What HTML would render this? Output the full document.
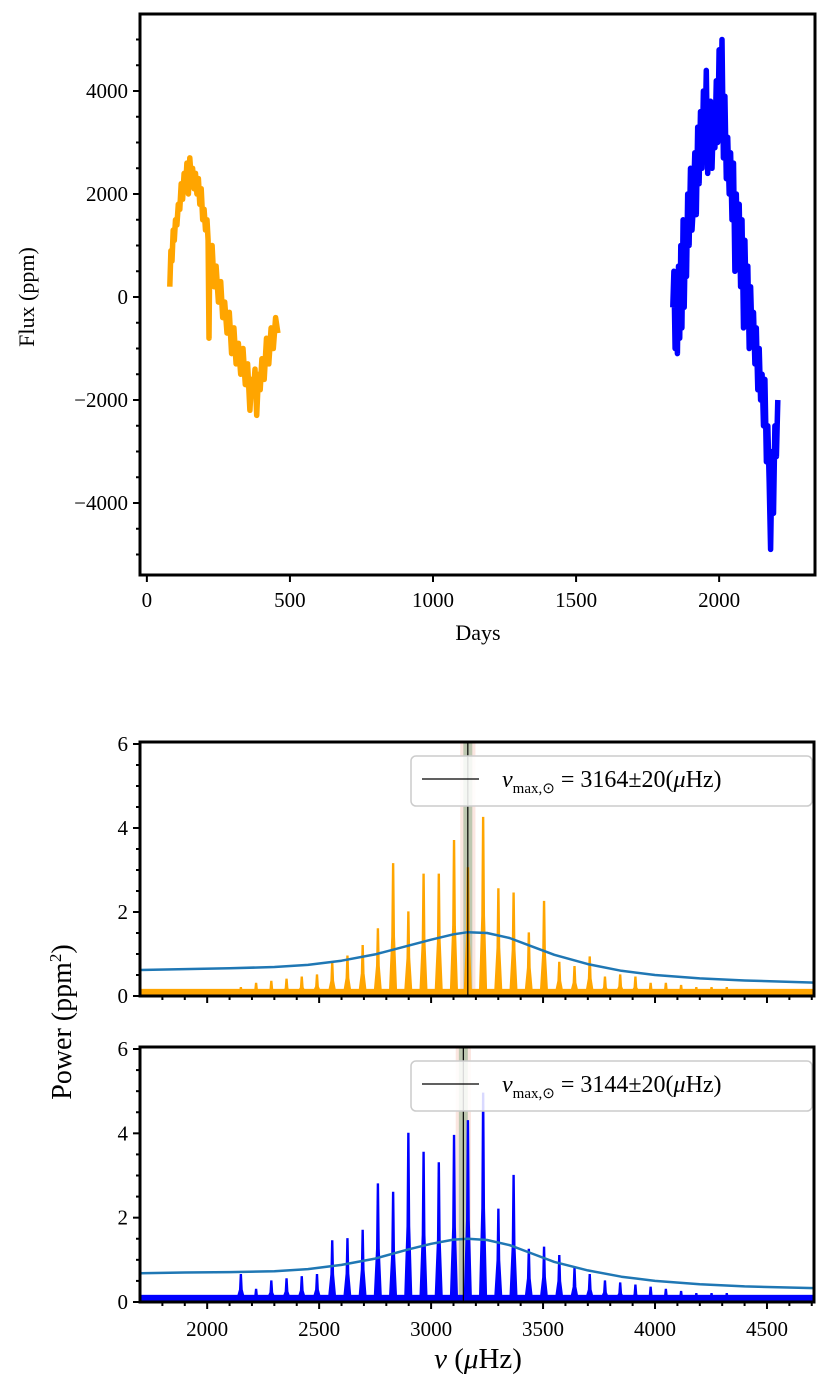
<!DOCTYPE html>
<html><head><meta charset="utf-8"><style>
html,body{margin:0;padding:0;background:#fff;}
svg{display:block;font-family:"Liberation Serif",serif;}
</style></head><body>
<svg id="fig" width="831" height="1389" viewBox="0 0 831 1389" xmlns="http://www.w3.org/2000/svg"></svg>
<script>
// ---- Light curve data ----
const orangeDays=[80,84,88,92,96,100,105,110,115,120,125,130,135,140,145,150,155,160,165,170,175,180,185,190,195,200,205,210,214,217,220,223,228,235,242,250,258,265,272,280,288,296,304,312,320,328,336,344,352,360,366,372,378,384,390,396,402,410,418,426,434,442,450,458];
const orangeFlux=[200,900,700,1300,1100,1500,1400,1800,1700,2200,1900,2400,2100,2600,2000,2700,2300,2500,2100,2400,2000,2300,1800,2100,1500,1700,1300,1500,1100,-800,900,400,1000,200,600,-100,300,-400,-100,-700,-300,-1100,-600,-1300,-900,-1500,-1000,-1700,-1300,-2200,-1600,-1900,-1400,-2300,-1500,-1800,-1200,-1600,-800,-1300,-600,-1000,-400,-700];
const blueDays=[1838,1842,1846,1850,1854,1858,1862,1866,1870,1874,1878,1882,1886,1890,1895,1900,1905,1910,1915,1920,1925,1930,1935,1940,1945,1950,1955,1960,1965,1970,1975,1980,1985,1990,1995,2000,2005,2010,2015,2020,2025,2030,2035,2040,2045,2050,2055,2060,2065,2070,2075,2080,2085,2090,2095,2100,2105,2110,2115,2120,2125,2130,2135,2140,2145,2150,2155,2160,2165,2170,2175,2180,2185,2190,2195,2200,2205];
const blueFlux=[-200,500,-1000,300,-1100,600,-800,1000,-600,1500,-200,1200,400,2000,1000,2500,1300,1800,2800,1600,3300,2200,3600,2500,4000,2800,4400,2400,3200,3800,2500,3500,2900,4200,3000,4800,3100,5000,2700,3900,2300,3100,2000,2800,1500,2600,500,2000,800,1800,200,1500,-600,1100,-300,600,-1000,200,-800,-300,-1300,-600,-1800,-1000,-2000,-1500,-2500,-1600,-3200,-2500,-3600,-4900,-3000,-4200,-2500,-3100,-2000];
const fluxTicks=[-4000,-2000,0,2000,4000];
const dayTicks=[0,500,1000,1500,2000];

// ---- Power spectra data ----
const peakFreqs=[2150,2218,2286,2354,2422,2490,2558,2626,2694,2762,2830,2898,2966,3034,3102,3164,3232,3300,3368,3436,3504,3572,3640,3708,3776,3844,3912,3980,4048,4116,4184,4252,4320];
const orangePeaks=[0.2,0.3,0.35,0.4,0.45,0.5,0.8,0.95,1.2,1.6,3.15,2.0,2.9,2.9,3.7,3.05,4.25,2.55,2.45,1.5,2.25,0.8,0.7,0.93,0.45,0.5,0.45,0.3,0.3,0.25,0.2,0.2,0.2];
const bluePeaks=[0.65,0.3,0.5,0.55,0.6,0.65,1.45,1.5,1.7,2.8,2.6,4.0,3.55,3.3,3.95,4.3,4.95,2.2,3.0,1.25,1.3,1.1,0.8,0.65,0.5,0.45,0.4,0.35,0.3,0.25,0.2,0.2,0.2];
const bgFreqs=[1700,1900,2100,2300,2450,2600,2750,2900,3000,3100,3164,3250,3350,3450,3550,3700,3850,4000,4200,4400,4710];
const orangeBg=[0.62,0.64,0.66,0.69,0.74,0.84,0.99,1.2,1.34,1.47,1.52,1.5,1.38,1.18,0.98,0.76,0.6,0.5,0.42,0.37,0.32];
const blueBg=[0.68,0.7,0.71,0.73,0.78,0.88,1.03,1.25,1.38,1.48,1.5,1.47,1.35,1.15,0.95,0.75,0.6,0.5,0.42,0.37,0.33];
const numaxOrange=3164, numaxBlue=3144, numaxErr=20;
const powerTicks=[0,2,4,6];
const freqTicks=[2000,2500,3000,3500,4000,4500];

const NS="http://www.w3.org/2000/svg";
const svg=document.getElementById('fig');
function el(tag,attrs,parent){const e=document.createElementNS(NS,tag);for(const k in attrs)e.setAttribute(k,attrs[k]);(parent||svg).appendChild(e);return e;}
function lin(d0,d1,r0,r1){return v=>r0+(v-d0)*(r1-r0)/(d1-d0);}

// ===== Panel A =====
const A={x0:140,x1:815,y0:14,y1:575};
const ax=lin(-24,2335,A.x0,A.x1), ay=lin(0,4000,297,91);
const gA=el('g',{});


function lcLine(days,flux,color,name){
  let d='';days.forEach((t,i)=>{d+=(i?'L':'M')+ax(t).toFixed(1)+','+ay(flux[i]).toFixed(1);});
  const p=el('path',{d:d,fill:'none',stroke:color,'stroke-width':5.5,'stroke-linejoin':'round'},gA);
  
  
}
lcLine(orangeDays,orangeFlux,'#ffa500','orange-light-curve');
lcLine(blueDays,blueFlux,'#0000ff','blue-light-curve');
const frA=el('rect',{x:A.x0,y:A.y0,width:A.x1-A.x0,height:A.y1-A.y0,fill:'none',stroke:'#000','stroke-width':3},gA);


for(let v=-5000;v<=5000;v+=500){const y=ay(v);if(y<A.y0||y>A.y1)continue;el('line',{x1:A.x0-(v%2000===0?7:4),x2:A.x0,y1:y,y2:y,stroke:'#000','stroke-width':2},gA);}
fluxTicks.forEach(v=>{const t=el('text',{x:A.x0-12,y:ay(v)+7,'text-anchor':'end','font-size':21},gA);t.textContent=(v<0?'\u2212':'')+Math.abs(v);
  
  });
dayTicks.forEach(v=>{const x=ax(v);el('line',{x1:x,x2:x,y1:A.y1,y2:A.y1+7,stroke:'#000','stroke-width':2},gA);
  const t=el('text',{x:x,y:A.y1+32,'text-anchor':'middle','font-size':21},gA);t.textContent=v;
  
  });
const xlA=el('text',{x:478,y:640,'text-anchor':'middle','font-size':22},gA);xlA.textContent='Days';


const ylA=el('text',{x:0,y:0,'text-anchor':'middle','font-size':22,transform:'translate(34,297) rotate(-90)'},gA);ylA.textContent='Flux (ppm)';



// ===== Power panels =====
const fx=lin(1700,4710,140,814);
function panel(P,peaks,bg,numax,color,name,showX,legendY){
  const py=lin(0,6,P.y1,P.y1-(P.y1-P.y0-2)*1.0);
  const g=el('g',{});
  
  
  el('rect',{x:fx(numax-numaxErr-14),y:P.y0,width:fx(numax+numaxErr+14)-fx(numax-numaxErr-14),height:P.y1-P.y0,fill:'#f4b6a6',opacity:0.35},g);
  el('rect',{x:fx(numax-numaxErr),y:P.y0,width:fx(numax+numaxErr)-fx(numax-numaxErr),height:P.y1-P.y0,fill:'#7fa77f',opacity:0.5},g);
  const fl=el('rect',{x:P.x0,y:py(0.17),width:P.x1-P.x0,height:P.y1-py(0.17),fill:color},g);
  
  
  peakFreqs.forEach((f,i)=>{const x=fx(f);
    const p=el('path',{d:`M${x-3.5},${py(0.1)}L${x-1.2},${py(peaks[i]*0.45)}L${x-0.5},${py(peaks[i])}L${x+0.7},${py(peaks[i])}L${x+1.4},${py(peaks[i]*0.45)}L${x+3.5},${py(0.1)}Z`,fill:color,stroke:color,'stroke-width':1.2},g);
    
    });
  let d='';bgFreqs.forEach((f,i)=>{d+=(i?'L':'M')+fx(f).toFixed(1)+','+py(bg[i]).toFixed(1);});
  const bl=el('path',{d:d,fill:'none',stroke:'#1f77b4','stroke-width':2.5,'stroke-linejoin':'round'},g);
  
  
  const vl=el('line',{x1:fx(numax),x2:fx(numax),y1:P.y0,y2:P.y1,stroke:'#000','stroke-width':1.2},g);
  
  
  const lg=el('g',{},g);
  
  
  el('rect',{x:411,y:legendY,width:401,height:50,rx:5,fill:'#fff','fill-opacity':0.85,stroke:'#ccc','stroke-width':1.5},lg);
  el('line',{x1:422,x2:479,y1:legendY+23,y2:legendY+23,stroke:'#000','stroke-width':1.3},lg);
  const lt=el('text',{x:502,y:legendY+31,'font-size':24},lg);
  lt.innerHTML=`<tspan font-style="italic">\u03bd</tspan><tspan font-size="15" dy="6">max,\u2299</tspan><tspan dy="-6"> = ${numax}\u00b120(</tspan><tspan font-style="italic">\u03bc</tspan><tspan>Hz)</tspan>`;
  
  
  el('rect',{x:P.x0,y:P.y0,width:P.x1-P.x0,height:P.y1-P.y0,fill:'none',stroke:'#000','stroke-width':3},g);
  for(let v=0;v<=6;v+=0.5){const y=py(v);el('line',{x1:P.x0-(v%2===0?7:4),x2:P.x0,y1:y,y2:y,stroke:'#000','stroke-width':2},g);}
  powerTicks.forEach(v=>{const t=el('text',{x:P.x0-12,y:py(v)+7,'text-anchor':'end','font-size':21},g);t.textContent=v;
    
    });
  for(let f=1800;f<=4700;f+=100){const x=fx(f);el('line',{x1:x,x2:x,y1:P.y1,y2:P.y1+(f%500===0?7:4),stroke:'#000','stroke-width':2},g);}
  if(showX) freqTicks.forEach(v=>{const t=el('text',{x:fx(v),y:P.y1+34,'text-anchor':'middle','font-size':21},g);t.textContent=v;
    
    });
}
panel({x0:140,x1:814,y0:742,y1:996},orangePeaks,orangeBg,numaxOrange,'#ffa500','orange-power-spectrum',false,756);
panel({x0:140,x1:814,y0:1047,y1:1302},bluePeaks,blueBg,numaxBlue,'#0000ff','blue-power-spectrum',true,1061);
const yp=el('text',{x:0,y:0,'text-anchor':'middle','font-size':28,transform:'translate(71,1022) rotate(-90)'});
yp.innerHTML='Power (ppm<tspan font-size="17" dy="-10">2</tspan><tspan dy="10">)</tspan>';


const xp=el('text',{x:478,y:1368,'text-anchor':'middle','font-size':29});
xp.innerHTML='<tspan font-style="italic">\u03bd</tspan> (<tspan font-style="italic">\u03bc</tspan>Hz)';


</script>
</body></html>
